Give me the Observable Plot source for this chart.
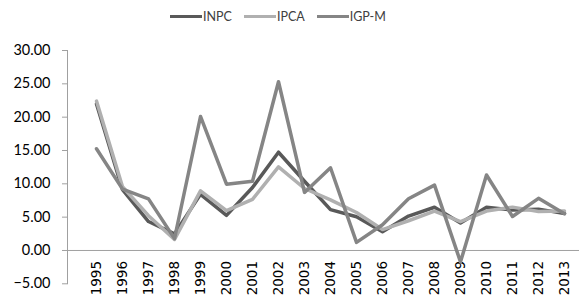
<!DOCTYPE html>
<html>
<head>
<meta charset="utf-8">
<script src="https://cdn.jsdelivr.net/npm/d3@7"></script>
<script src="https://cdn.jsdelivr.net/npm/@observablehq/plot@0.6"></script>
<style>
  html, body { margin: 0; padding: 0; background: #fff; }
  #wrap { position: relative; width: 579px; height: 296px; overflow: hidden; }
  #legend { position: absolute; top: 9px; left: 170px; display: flex; gap: 12px;
            font-family: Lato, "Open Sans", sans-serif; font-size: 12.5px; color: #404040; z-index: 2; }
  .item { display: flex; align-items: center; }
  .sw { display: inline-block; width: 32px; height: 3.5px; margin-right: 1px; }
  #chart svg { display: block; }
</style>
</head>
<body>
<div id="wrap">
  <div id="legend"></div>
  <div id="chart"></div>
</div>
<script>
const years = ["1995","1996","1997","1998","1999","2000","2001","2002","2003","2004","2005","2006","2007","2008","2009","2010","2011","2012","2013"];
const inpc  = [21.98, 9.12, 4.34, 2.49, 8.43, 5.27, 9.44, 14.74, 10.38, 6.13, 5.05, 2.81, 5.16, 6.48, 4.11, 6.47, 6.08, 6.20, 5.56];
const ipca  = [22.41, 9.56, 5.22, 1.65, 8.94, 5.97, 7.67, 12.53, 9.30, 7.60, 5.69, 3.14, 4.46, 5.90, 4.31, 5.91, 6.50, 5.84, 5.91];
const igpm  = [15.25, 9.20, 7.74, 1.78, 20.10, 9.95, 10.38, 25.31, 8.71, 12.41, 1.21, 3.85, 7.75, 9.81, -1.71, 11.32, 5.10, 7.82, 5.51];
const seriesNames = ["INPC", "IPCA", "IGP-M"];
const seriesColors = ["#595959", "#b0b0b0", "#858585"];
const yTicks = [-5, 0, 5, 10, 15, 20, 25, 30];

const seriesValues = [inpc, ipca, igpm];
const rows = [];
seriesNames.forEach((name, si) => {
  years.forEach((yr, i) => rows.push({series: name, year: yr, value: seriesValues[si][i]}));
});

// legend
const legend = document.getElementById("legend");
seriesNames.forEach((name, i) => {
  const it = document.createElement("span");
  it.className = "item";
  it.innerHTML = `<span class="sw" style="background:${seriesColors[i]}"></span><span>${name}</span>`;
  legend.appendChild(it);
});

const chart = Plot.plot({
  width: 579,
  height: 296,
  marginLeft: 67,
  marginRight: 0,
  marginTop: 50,
  marginBottom: 12.7,
  style: { background: "#fff", overflow: "visible" },
  x: { type: "point", domain: years, range: [80.7, 580.2], axis: null },
  y: { domain: [-5, 30], range: [283.3, 50], axis: null },
  color: { domain: seriesNames, range: seriesColors },
  marks: [
    Plot.ruleY([0], { stroke: "#a0a0a0", strokeWidth: 1 }),
    Plot.frame({ anchor: "left", stroke: "#a0a0a0", strokeWidth: 1 }),
    Plot.axisY(yTicks, {
      label: null, tickSize: 5, tickPadding: 12, stroke: "#a0a0a0", fill: "#000",
      tickFormat: d3.format(".2f"), fontSize: 14.5, fontFamily: "Lato, 'Open Sans', sans-serif"
    }),
    Plot.text(years, {
      x: d => d, y: () => 0, text: d => d, rotate: -90, textAnchor: "end", dy: 10.5,
      fontSize: 13.5, fontFamily: "DejaVu Sans, sans-serif", fill: "#000"
    }),
    Plot.line(rows, { x: "year", y: "value", z: "series", stroke: "series", strokeWidth: 3.5, strokeLinejoin: "round" })
  ]
});
document.getElementById("chart").appendChild(chart);
</script>
</body>
</html>
